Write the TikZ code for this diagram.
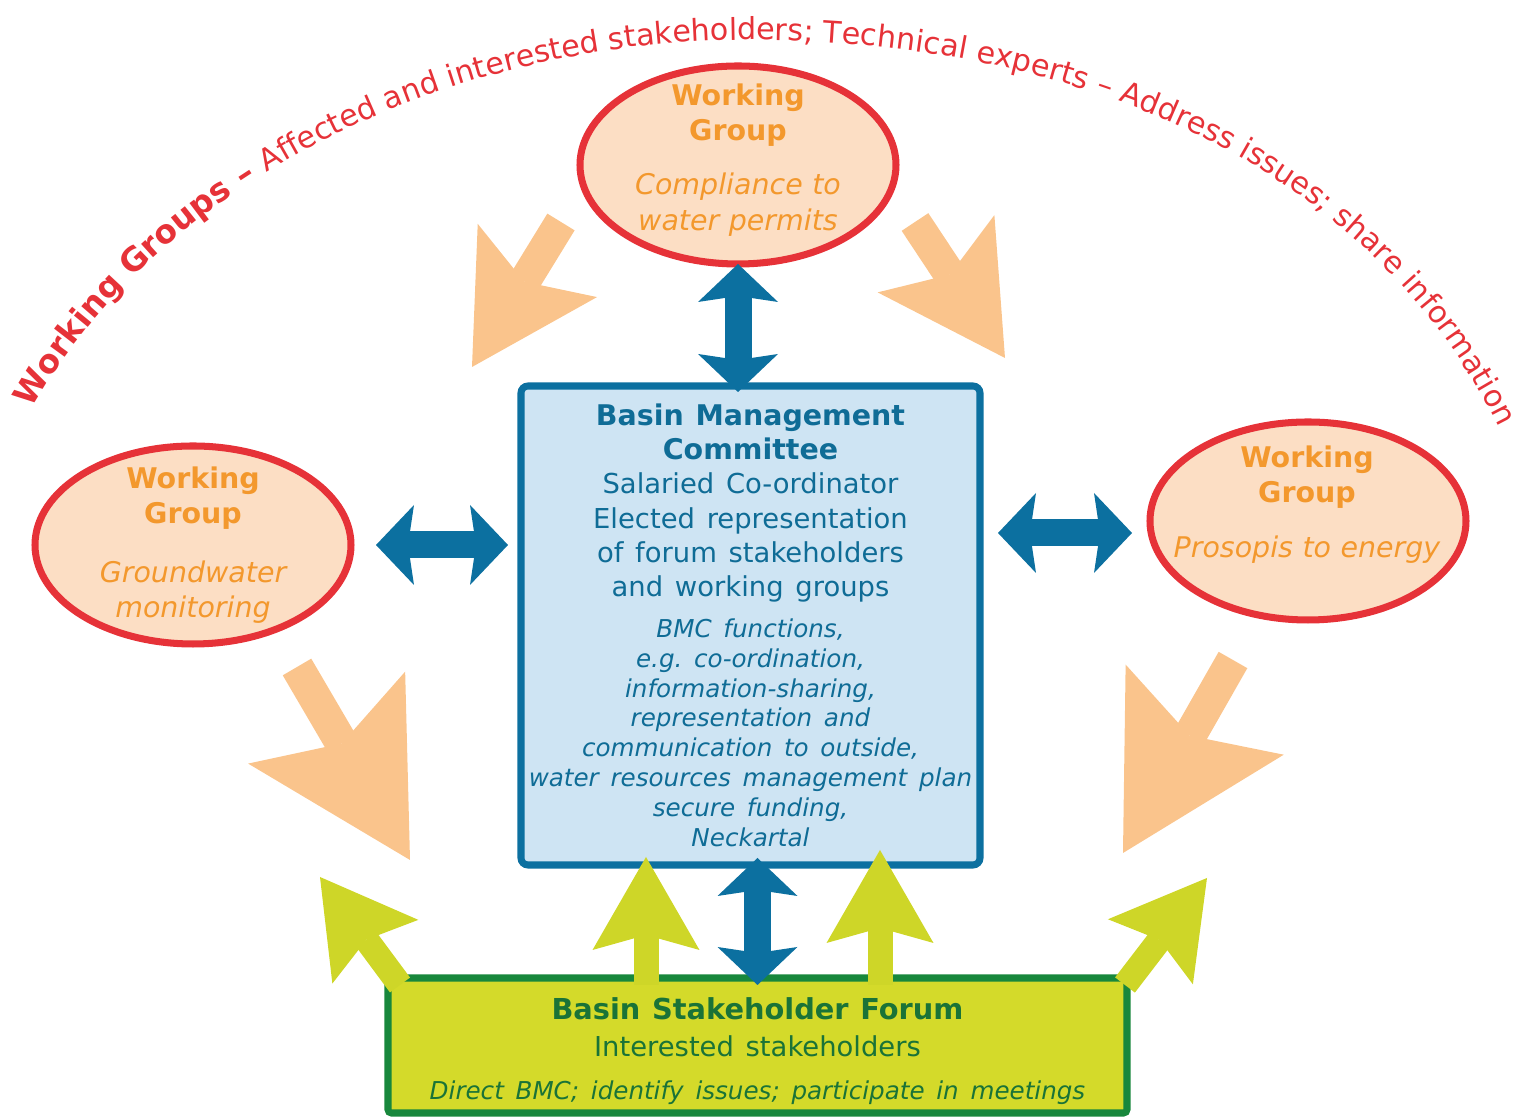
\documentclass[tikz,border=0pt]{standalone}
\usepackage{fontspec}
\setmainfont{DejaVu Sans}
\usetikzlibrary{shapes.geometric,arrows.meta,decorations.text,calc}
\setlength{\parskip}{0pt}
\frenchspacing

\definecolor{wgred}{RGB}{230,50,56}
\definecolor{wgfill}{RGB}{252,222,196}
\definecolor{wgorange}{RGB}{243,152,45}
\definecolor{wgpeach}{RGB}{250,196,140}
\definecolor{bmcblue}{RGB}{12,112,160}
\definecolor{bmcfill}{RGB}{206,228,243}
\definecolor{bmctext}{RGB}{15,108,150}
\definecolor{bsffill}{RGB}{212,218,42}
\definecolor{bsfborder}{RGB}{24,135,60}
\definecolor{bsftext}{RGB}{26,115,55}
\definecolor{bsfarrow}{RGB}{206,214,40}

\newcommand\arcfont{\fontsize{8.6pt}{10pt}\selectfont}
\newcommand\arcbold{\fontsize{9.3pt}{10pt}\selectfont\bfseries}

\tikzset{
  wgellipse/.style={ellipse,draw=wgred,fill=wgfill,line width=2pt,
    minimum width=3.16cm,minimum height=1.98cm,inner sep=0pt,outer sep=0pt},
  wglabel/.style={text width=3cm,align=center,text=wgorange,inner sep=0pt,
    font=\fontsize{8.1pt}{10pt}\selectfont},
  bmcbox/.style={draw=bmcblue,fill=bmcfill,line width=2pt,rounded corners=2pt,
    minimum width=4.59cm,minimum height=4.79cm,text width=4.5cm,align=center,
    inner sep=0pt,outer sep=0pt,text=bmctext},
  bsfbox/.style={draw=bsfborder,fill=bsffill,line width=2pt,rounded corners=1pt,
    minimum width=7.39cm,minimum height=1.35cm,text width=7.2cm,align=center,
    inner sep=0pt,outer sep=0pt,text=bsftext},
  bluetip/.tip={Stealth[length=0.38cm,width=0.8cm,inset=0.06cm,line width=0pt]},
  bluearrow/.style={draw=bmcblue,line width=0.27cm,bluetip-bluetip},
  peacharrow/.style={draw=wgpeach,line width=0.32cm,
    -{Stealth[length=1.25cm,width=1.4cm,inset=0.25cm,line width=0pt]}},
  bigpeacharrow/.style={draw=wgpeach,line width=0.33cm,
    -{Stealth[length=1.65cm,width=1.82cm,inset=0.3cm,line width=0pt]}},
  greenarrow/.style={draw=bsfarrow,line width=0.25cm,
    -{Stealth[length=0.93cm,width=1.07cm,inset=0.15cm,line width=0pt]}},
}

\begin{document}
\begin{tikzpicture}
  \useasboundingbox (0,0) rectangle (15.17,11.17);
  \clip (0,0) rectangle (15.17,11.17);
  % banner along the arc
  \path[decorate,decoration={text along path,text align=left,text color=wgred,
    text={|\arcbold|Working Groups – |\arcfont|Affected and interested stakeholders; Technical experts – Address issues; share information}}]
    (0.32,7.08) .. controls (1.6,9.35) and (4.5,10.8) .. (7.6,10.77)
    .. controls (10.5,10.75) and (13.8,9.7) .. (15.15,6.55);
  % peach arrows
  \coordinate (pTLs) at (5.61,8.95);
  \coordinate (pTLe) at (4.72,7.50);
  \coordinate (pTRs) at (9.15,8.95);
  \coordinate (pTRe) at (10.05,7.59);
  \coordinate (pBLs) at (2.97,4.50);
  \coordinate (pBLe) at (4.10,2.57);
  \coordinate (pBRs) at (12.33,4.57);
  \coordinate (pBRe) at (11.23,2.64);
  \foreach \x/\y in {pTLs/pTLe,pTRs/pTRe}{
    \draw[peacharrow](\x)--(\y);
  }
  \foreach \x/\y in {pBLs/pBLe,pBRs/pBRe}{
    \draw[bigpeacharrow](\x)--(\y);
  }
  % working groups
  \node[wgellipse](wgtop) at (7.38,9.52) {};
  \node[wgellipse](wgleft) at (1.93,5.72) {};
  \node[wgellipse](wgright) at (13.08,5.96) {};
  \node[wglabel](wgtoplbl) at (7.38,9.57)
    {{\bfseries Working\\Group\par}\vspace{5.4pt}{\itshape Compliance to\\water permits\par}};
  \node[wglabel](wgleftlbl) at (1.93,5.72)
    {{\bfseries Working\\Group\par}\vspace{6.6pt}{\itshape Groundwater\\monitoring\par}};
  \node[wglabel](wgrightlbl) at (13.07,6.12)
    {{\bfseries Working\\Group\par}\vspace{5.6pt}{\itshape Prosopis to energy\par}};
  % committee and forum
  \node[bmcbox](bmc) at (7.505,4.915)
    {{\fontsize{7.8pt}{9.7pt}\selectfont{\fontsize{8.1pt}{9.7pt}\selectfont\bfseries Basin Management\\Committee\\}Salaried Co-ordinator\\Elected representation\\of forum stakeholders\\and working groups\par}
     \vspace{3.2pt}
     {\fontsize{7pt}{8.5pt}\selectfont\itshape BMC functions,\\e.g. co-ordination,\\information-sharing,\\representation and\\communication to outside,\\water resources management plan\\secure funding,\\Neckartal\par}};
  \node[bsfbox](bsf) at (7.575,0.715)
    {{\fontsize{8.2pt}{10pt}\selectfont\bfseries Basin Stakeholder Forum\par}
     {\fontsize{7.8pt}{10.5pt}\selectfont Interested stakeholders\par}
     {\fontsize{7pt}{12.2pt}\selectfont\itshape Direct BMC; identify issues; participate in meetings\par}
     \vspace{-0.12cm}};
  % green arrows out of the forum
  \coordinate (gLs) at (4.00,1.32);
  \coordinate (gLe) at (3.20,2.40);
  \coordinate (gCLs) at (6.46,1.32);
  \coordinate (gCLe) at (6.46,2.60);
  \coordinate (gCRs) at (8.80,1.32);
  \coordinate (gCRe) at (8.80,2.67);
  \coordinate (gRs) at (11.25,1.32);
  \coordinate (gRe) at (12.07,2.39);
  \foreach \x/\y in {gLs/gLe,gCLs/gCLe,gCRs/gCRe,gRs/gRe}{
    \draw[greenarrow](\x)--(\y);
  }
  % blue double arrows
  \draw[bluearrow](wgtop.south)--([yshift=-0.06cm]wgtop.south |- bmc.north);
  \draw[bluearrow]([xshift=0.25cm]wgleft.east)--($(wgleft.east -| bmc.west)+(-0.13,0)$);
  \draw[bluearrow]($(bmc.east |- wgright.west)+(0.18,-0.12)$)--($(wgright.west)+(-0.18,-0.12)$);
  \draw[bluearrow]($(bmc.south)+(0.07,0.07)$)--($(bmc.south |- bsf.north)+(0.07,-0.07)$);
\end{tikzpicture}
\end{document}
